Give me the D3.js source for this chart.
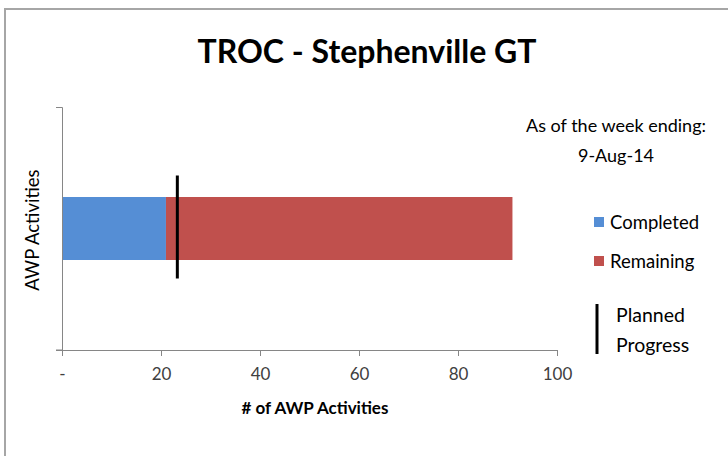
<!DOCTYPE html>
<html><head><meta charset="utf-8">
<script src="https://cdn.jsdelivr.net/npm/d3@7"></script>
<style>body{margin:0;background:#fff}svg{display:block;font-family:Lato,"Open Sans",sans-serif}</style>
</head><body><svg id="c" width="728" height="456"></svg>
<script>
const categories = ["AWP Activities"];
const completed = [21];
const remaining = [70];
const planned = [23.3];
const xTicks = [0, 20, 40, 60, 80, 100];
const xTickLabels = ["-", "20", "40", "60", "80", "100"];
const seriesNames = ["Completed", "Remaining"];
const seriesColors = ["#558ED5", "#C0504D"];
const title = "TROC - Stephenville GT";
const weekLabel = ["As of the week ending:", "9-Aug-14"];

const svg = d3.select("#c");
// outer chart border
svg.append("rect").attr("x", 5).attr("y", 9).attr("width", 800).attr("height", 600)
  .attr("fill", "#fff").attr("stroke", "#A6A6A6").attr("stroke-width", 2);

const m = {l: 62, r: 557, t: 107, b: 350};
const x = d3.scaleLinear().domain([0, 100]).range([m.l, m.r]);
const y = d3.scaleBand().domain(categories).range([m.t, m.b]).paddingInner(0).paddingOuter(0);

svg.append("text").attr("x", 367).attr("y", 63).attr("text-anchor", "middle")
  .attr("font-size", 32).attr("font-weight", "bold").attr("fill", "#000").text(title);

// stacked bars
const stackData = categories.map((c, i) => ({cat: c, Completed: completed[i], Remaining: remaining[i]}));
const stack = d3.stack().keys(seriesNames)(stackData);
const barH = 63;
stack.forEach((s, si) => {
  svg.append("g").selectAll("rect").data(s).join("rect")
    .attr("x", d => x(d[0])).attr("width", d => x(d[1]) - x(d[0]))
    .attr("y", d => y(d.data.cat) + y.bandwidth() / 2 - barH / 2).attr("height", barH)
    .attr("fill", seriesColors[si]);
});

// axes
const ax = svg.append("g").attr("transform", `translate(0,${m.b})`)
  .call(d3.axisBottom(x).tickValues(xTicks).tickFormat((d, i) => xTickLabels[i]).tickSizeOuter(0).tickSize(6));
ax.select(".domain").attr("stroke", "#868686");
ax.selectAll(".tick line").attr("stroke", "#868686");
ax.selectAll(".tick text").attr("font-size", 17).attr("fill", "#404040").attr("dy", "1.25em")
  .attr("font-family", "Lato, sans-serif");
const ay = svg.append("g").attr("transform", `translate(${m.l},0)`)
  .call(d3.axisLeft(y).tickValues([]).tickSizeOuter(6));
ay.select(".domain").attr("stroke", "#868686");
// x-axis left extension at origin
svg.append("line").attr("x1", m.l - 6).attr("x2", m.l).attr("y1", m.b).attr("y2", m.b).attr("stroke", "#868686");

// planned progress line
svg.append("g").selectAll("line").data(categories).join("line")
  .attr("x1", (d, i) => x(planned[i])).attr("x2", (d, i) => x(planned[i]))
  .attr("y1", d => y(d) + y.bandwidth() / 2 - 53).attr("y2", d => y(d) + y.bandwidth() / 2 + 50)
  .attr("stroke", "#000").attr("stroke-width", 3);

// axis titles
svg.append("text").attr("x", 315).attr("y", 414).attr("text-anchor", "middle")
  .attr("font-size", 17).attr("font-weight", "bold").attr("fill", "#000").text("# of AWP Activities");
svg.append("text").attr("transform", "translate(39,230) rotate(-90)").attr("text-anchor", "middle")
  .attr("font-size", 18.5).attr("fill", "#000").text(categories[0]);

// week label
weekLabel.forEach((t, i) => svg.append("text").attr("x", 616).attr("y", 132 + i * 30)
  .attr("text-anchor", "middle").attr("font-size", 18).attr("fill", "#000").text(t));

// legend
seriesNames.forEach((n, i) => {
  const ly = 222 + i * 39;
  svg.append("rect").attr("x", 594).attr("y", ly - 5).attr("width", 10).attr("height", 10).attr("fill", seriesColors[i]);
  svg.append("text").attr("x", 610).attr("y", ly + 7).attr("font-size", 18.5).attr("fill", "#000").text(n);
});
svg.append("line").attr("x1", 597).attr("x2", 597).attr("y1", 304).attr("y2", 354)
  .attr("stroke", "#000").attr("stroke-width", 3);
svg.append("text").attr("x", 616).attr("y", 322).attr("font-size", 19.5).attr("fill", "#000").text("Planned");
svg.append("text").attr("x", 616).attr("y", 352).attr("font-size", 19.5).attr("fill", "#000").text("Progress");
</script></body></html>
